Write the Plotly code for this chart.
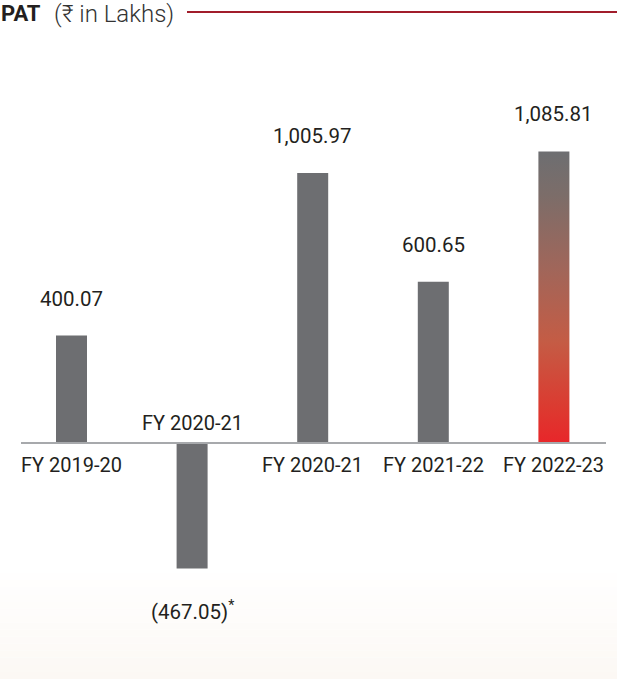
import plotly.graph_objects as go

categories = ["FY 2019-20", "FY 2020-21", "FY 2020-21", "FY 2021-22", "FY 2022-23"]
values = [400.07, -467.05, 1005.97, 600.65, 1085.81]
value_labels = ["400.07", "(467.05)<sup>*</sup>", "1,005.97", "600.65", "1,085.81"]
highlight_index = 4

GRAY = "#6d6e71"
TEXT = "#231f20"
FONT = "Roboto, 'Noto Sans', sans-serif"

# gradient for highlighted bar (0 = bottom, 1 = top)
grad_scale = [[0.0, "#e8262a"], [0.12, "#dc3a30"], [0.35, "#c45c45"],
              [0.6, "#a0665a"], [0.85, "#7c6d69"], [1.0, "#6d6e71"]]

x = list(range(len(categories)))
BW = 0.257

fig = go.Figure()
plain_x = [i for i in x if i != highlight_index]
plain_y = [values[i] for i in x if i != highlight_index]
fig.add_trace(go.Bar(x=plain_x, y=plain_y, width=BW, marker=dict(color=GRAY, line=dict(width=0)),
                     hoverinfo="skip", showlegend=False))

# gradient bar drawn as filled rectangle from data value
hx = x[highlight_index]
hv = values[highlight_index]
fig.add_trace(go.Scatter(
    x=[hx - BW / 2, hx + BW / 2, hx + BW / 2, hx - BW / 2, hx - BW / 2],
    y=[0, 0, hv, hv, 0],
    mode="lines", line=dict(width=0), fill="toself",
    fillgradient=dict(type="vertical", colorscale=grad_scale),
    hoverinfo="skip", showlegend=False))

annotations = []
for i, (c, v, lab) in enumerate(zip(categories, values, value_labels)):
    if v >= 0:
        annotations.append(dict(x=i, y=v, text=lab, showarrow=False, yshift=37,
                                font=dict(size=20.5, color=TEXT, family=FONT)))
        annotations.append(dict(x=i, y=0, text=c, showarrow=False, yshift=-22,
                                font=dict(size=20, color=TEXT, family=FONT)))
    else:
        annotations.append(dict(x=i, y=v, text=lab, showarrow=False, yshift=-42,
                                font=dict(size=20.5, color=TEXT, family=FONT)))
        annotations.append(dict(x=i, y=0, text=c, showarrow=False, yshift=20,
                                font=dict(size=20, color=TEXT, family=FONT)))

# title
annotations.append(dict(xref="paper", yref="paper", x=0.0, y=1 - 13.5 / 679, xanchor="left", yanchor="middle",
                        text="<b>PAT</b>", showarrow=False, xshift=-1,
                        font=dict(size=22, color=TEXT, family=FONT)))
annotations.append(dict(xref="paper", yref="paper", x=52 / 617, y=1 - 13.5 / 679, xanchor="left", yanchor="middle",
                        text="(₹ in Lakhs)", showarrow=False,
                        font=dict(size=24, color="#333333", family=FONT, weight=300)))

shapes = []
# pale background gradient at bottom
bands = 16
top_px, H = 566, 679
for k in range(bands):
    y0 = (H - top_px) * (1 - k / bands) / H
    y1 = (H - top_px) * (1 - (k + 1) / bands) / H
    t = (k + 0.5) / bands
    col = "rgb(%d,%d,%d)" % (255 - round(3 * t), 255 - round(7 * t), 255 - round(11 * t))
    shapes.append(dict(type="rect", xref="paper", yref="paper", x0=0, x1=1, y0=y1, y1=y0,
                       fillcolor=col, line=dict(width=0), layer="below"))
# baseline
shapes.append(dict(type="line", xref="paper", yref="y", x0=21 / 617, x1=606 / 617, y0=0, y1=0,
                   line=dict(color="#a7a9ac", width=2), layer="above"))
# title rule
shapes.append(dict(type="line", xref="paper", yref="paper", x0=187 / 617, x1=1, y0=1 - 12 / 679, y1=1 - 12 / 679,
                   line=dict(color="#a11d2b", width=2)))

px_per_unit = 0.2685
fig.update_layout(
    width=617, height=679,
    margin=dict(l=0, r=0, t=0, b=0),
    paper_bgcolor="white", plot_bgcolor="rgba(0,0,0,0)",
    barmode="overlay",
    xaxis=dict(range=[-71.5 / 120.6, (617 - 71.5) / 120.6], visible=False, fixedrange=True),
    yaxis=dict(range=[-(679 - 443) / px_per_unit, 443 / px_per_unit], visible=False, fixedrange=True),
    annotations=annotations, shapes=shapes,
    font=dict(family=FONT),
)

fig.write_html("out.html")
